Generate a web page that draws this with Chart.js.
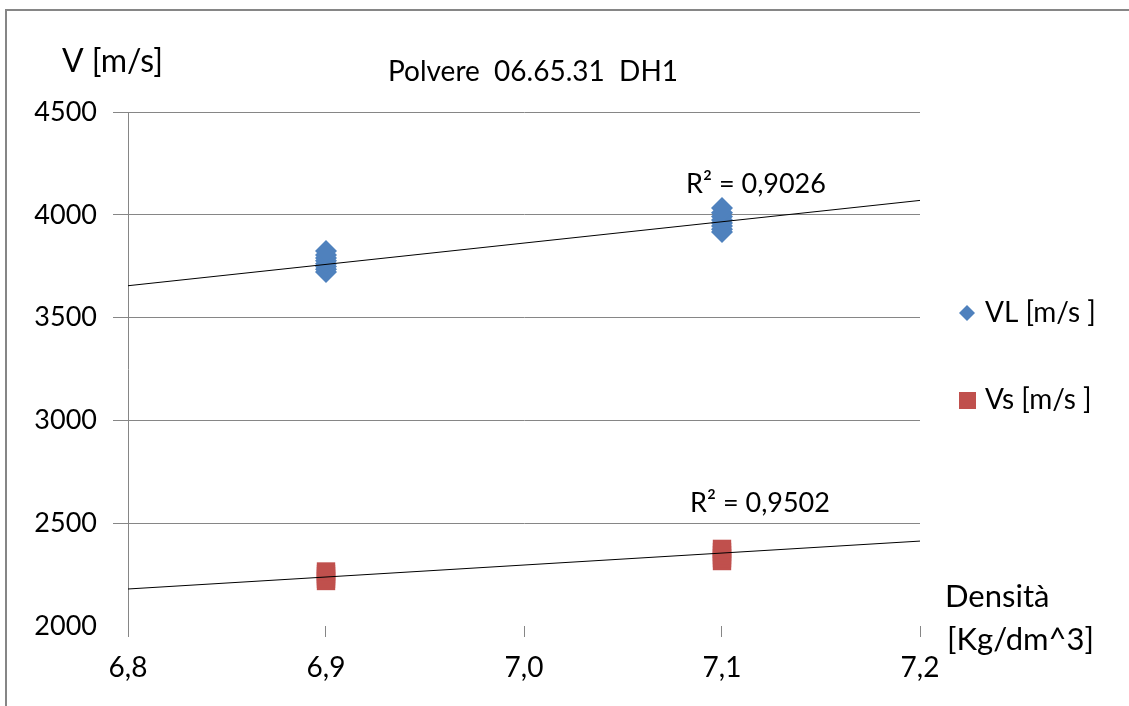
<!DOCTYPE html>
<html>
<head>
<meta charset="utf-8">
<title>Polvere 06.65.31 DH1</title>
<script src="https://cdn.jsdelivr.net/npm/chart.js@4/dist/chart.umd.min.js"></script>
<style>
  html, body { margin: 0; padding: 0; background: #fff; }
  #wrap { width: 1129px; height: 706px; position: relative; }
</style>
</head>
<body>
<div id="wrap"><canvas id="chart" width="1129" height="706"></canvas></div>
<script>
// readings
const vl_density = [6.9, 6.9, 6.9, 6.9, 6.9, 6.9, 6.9, 6.9, 7.1, 7.1, 7.1, 7.1, 7.1, 7.1, 7.1, 7.1];
const vl_speed = [3722, 3735, 3748, 3762, 3776, 3790, 3805, 3824, 3916, 3930, 3945, 3960, 3975, 3992, 4010, 4033];
const vs_density = [6.9, 6.9, 6.9, 6.9, 6.9, 7.1, 7.1, 7.1, 7.1, 7.1];
const vs_speed = [2219, 2230, 2242, 2253, 2265, 2316, 2330, 2345, 2360, 2375];

// linear trend lines, ends at 6,8 and 7,2
const trend_density = [6.8, 7.2];
const vl_trend = [3655, 4070];
const vs_trend = [2180, 2413];
const r2_labels = ["R\u00b2 = 0,9026", "R\u00b2 = 0,9502"];

const x_ticks = ["6,8", "6,9", "7,0", "7,1", "7,2"];
const y_ticks = [2000, 2500, 3000, 3500, 4000, 4500];

const series_names = ["VL [m/s ]", "Vs [m/s ]"];
const blue = "#4F81BD";
const red = "#C0504D";
const grid_gray = "#868686";
const font_family = "Lato, 'Open Sans', sans-serif";

function to_points(xs, ys){
    return xs.map((x, i) => ({x: x, y: ys[i]}));
}

const ctx = document.getElementById("chart");

// frame, titles, R² labels and legend
const extras = {
    id: "extras",
    beforeDraw(chart){
        const c = chart.ctx;
        c.save();
        c.fillStyle = "#fff";
        c.fillRect(0, 0, chart.width, chart.height);
        c.strokeStyle = grid_gray;
        c.lineWidth = 2;
        c.beginPath();
        c.moveTo(6, chart.height);
        c.lineTo(6, 10);
        c.lineTo(chart.width, 10);
        c.stroke();
        c.restore();
    },
    afterDraw(chart){
        const c = chart.ctx;
        const xs = chart.scales.x;
        const ys = chart.scales.y;
        const area = chart.chartArea;
        c.save();
        c.fillStyle = "#000";
        c.textBaseline = "middle";

        c.font = "28px " + font_family;
        c.textAlign = "center";
        c.fillText("Polvere  06.65.31  DH1", 533, 72);

        c.font = "32px " + font_family;
        c.textAlign = "left";
        c.fillText("V [m/s]", 62, 62);
        c.font = "31px " + font_family;
        c.fillText("Densit\u00e0", area.right + 25, 597);
        c.fillText("[Kg/dm^3]", area.right + 27, 640);

        // R² next to each trend line, over 7,1
        c.font = "27px " + font_family;
        c.textAlign = "center";
        const x71 = xs.getPixelForValue(7.1);
        const t1 = vl_trend[0] + (vl_trend[1] - vl_trend[0]) * 0.75;
        const t2 = vs_trend[0] + (vs_trend[1] - vs_trend[0]) * 0.75;
        c.fillText(r2_labels[0], x71 + 34, ys.getPixelForValue(t1) - 37);
        c.fillText(r2_labels[1], x71 + 38, ys.getPixelForValue(t2) - 50);

        // legend
        const lx = area.right + 47;
        c.fillStyle = blue;
        c.beginPath();
        c.moveTo(lx, 305);
        c.lineTo(lx + 8, 313);
        c.lineTo(lx, 321);
        c.lineTo(lx - 8, 313);
        c.closePath();
        c.fill();
        c.fillStyle = red;
        c.fillRect(lx - 8, 392, 17, 17);
        c.fillStyle = "#000";
        c.font = "28px " + font_family;
        c.textAlign = "left";
        c.fillText(series_names[0], lx + 18, 313);
        c.fillText(series_names[1], lx + 18, 400);
        c.restore();
    }
};

let chart = new Chart(ctx, {
    type: "scatter",
    data: {
        datasets: [
            {
                label: "trend VL",
                type: "line",
                data: to_points(trend_density, vl_trend),
                borderColor: "#000",
                borderWidth: 1,
                pointRadius: 0,
                order: 0
            },
            {
                label: "trend Vs",
                type: "line",
                data: to_points(trend_density, vs_trend),
                borderColor: "#000",
                borderWidth: 1,
                pointRadius: 0,
                order: 0
            },
            {
                label: series_names[0],
                data: to_points(vl_density, vl_speed),
                pointStyle: "rectRot",
                pointRadius: 11,
                backgroundColor: blue,
                borderColor: blue,
                borderWidth: 0,
                order: 1
            },
            {
                label: series_names[1],
                data: to_points(vs_density, vs_speed),
                pointStyle: "rect",
                pointRadius: 13,
                backgroundColor: red,
                borderColor: red,
                borderWidth: 0,
                order: 1
            },
        ],
    },
    options: {
        responsive: false,
        animation: false,
        layout: {
            padding: {left: 0, top: 112, right: 209, bottom: 0}
        },
        plugins: {
            legend: {display: false},
            tooltip: {enabled: false}
        },
        scales: {
            x: {
                type: "linear",
                min: 6.8,
                max: 7.2,
                afterFit: (scale) => { scale.height = 80; },
                afterBuildTicks: (scale) => {
                    scale.ticks = x_ticks.map((t, i) => ({value: 6.8 + i * 0.1}));
                },
                border: {display: false},
                grid: {
                    drawOnChartArea: false,
                    drawTicks: true,
                    tickLength: 11,
                    color: grid_gray
                },
                ticks: {
                    padding: 14,
                    color: "#000",
                    font: {family: font_family, size: 28},
                    callback: (v, i) => x_ticks[i]
                }
            },
            y: {
                min: 2000,
                max: 4500,
                afterFit: (scale) => { scale.width = 128; },
                afterBuildTicks: (scale) => {
                    scale.ticks = y_ticks.map(v => ({value: v}));
                },
                border: {display: true, color: grid_gray, width: 1},
                grid: {
                    tickLength: 15,
                    color: (c) => c.tick && c.tick.value === 2000 ? "rgba(0,0,0,0)" : grid_gray
                },
                ticks: {
                    padding: 16,
                    color: "#000",
                    font: {family: font_family, size: 27},
                    callback: (v) => String(v)
                }
            }
        }
    },
    plugins: [extras]
});
</script>
</body>
</html>
